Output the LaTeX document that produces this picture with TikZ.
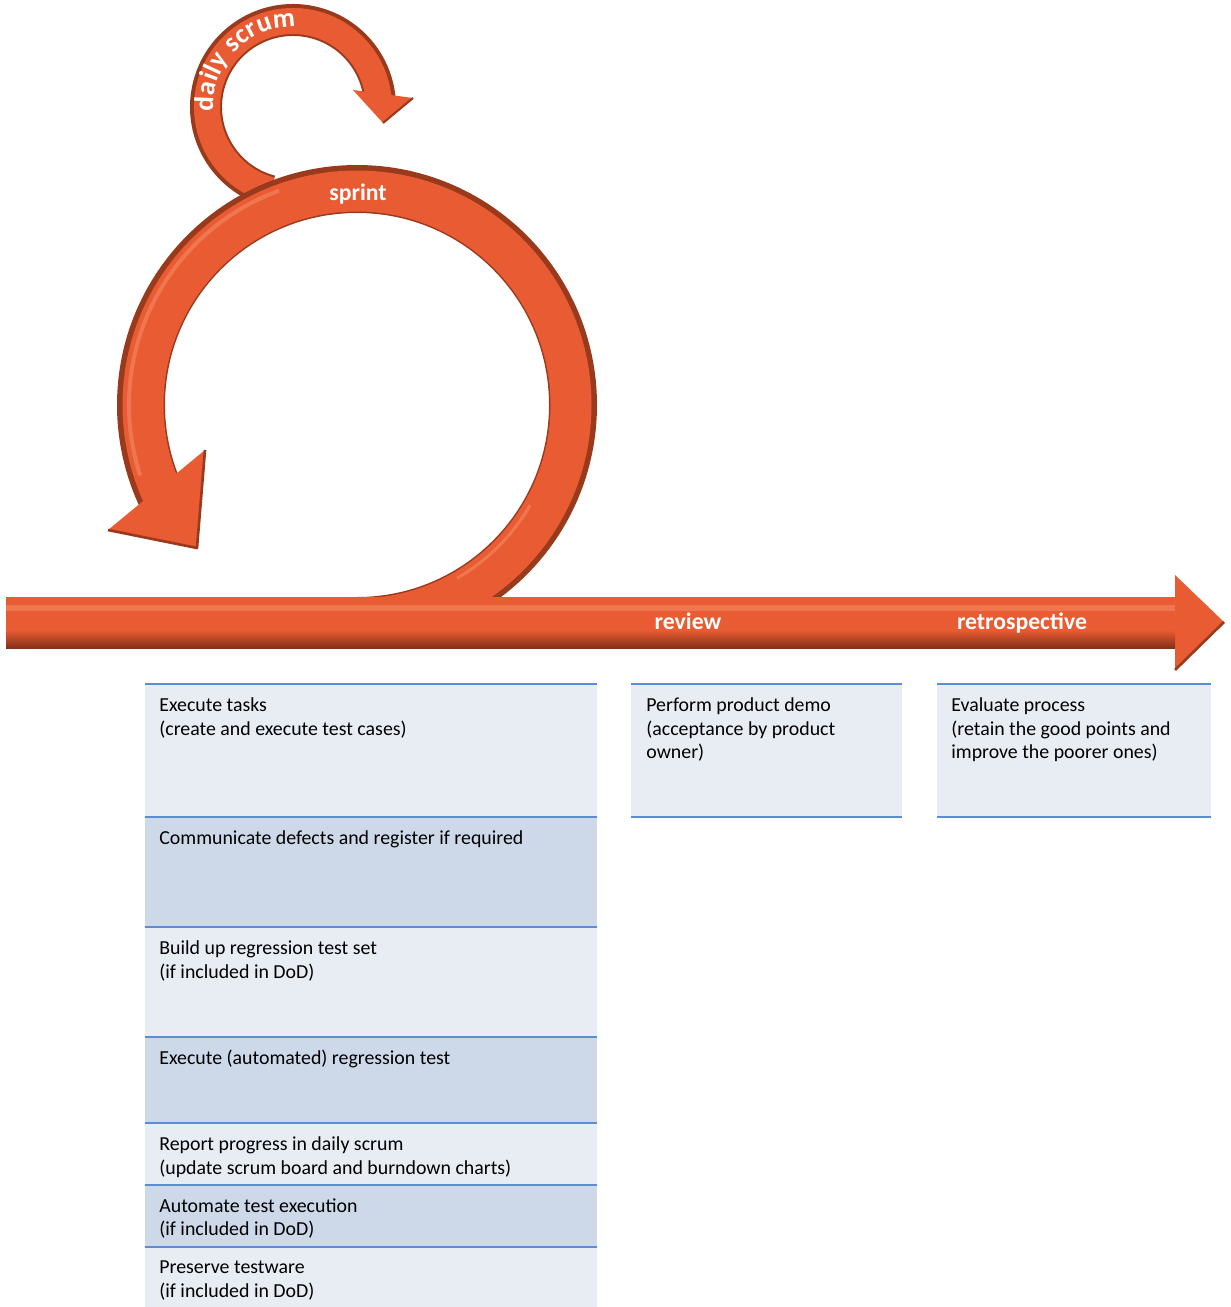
\documentclass[tikz,border=0pt]{standalone}
\usepackage{fontspec}
\setmainfont{Carlito}
\usepackage{tikz}
\usetikzlibrary{decorations.text}

\definecolor{ormain}{HTML}{E95B33}
\definecolor{ordark}{HTML}{9A3A1C}
\definecolor{orlight}{HTML}{F07650}
\definecolor{rowlight}{HTML}{E8ECF3}
\definecolor{rowdark}{HTML}{CDD8E9}
\definecolor{rowline}{HTML}{5A8ED1}

\begin{document}
\begin{tikzpicture}[x=0.02cm, y=-0.02cm,
    phase/.style={anchor=base, text=white, font=\fontsize{13.5}{16}\selectfont\bfseries},
    task/.style={anchor=north west, inner sep=0pt, align=left, font=\fontsize{11.3}{13.6}\selectfont},
    rowrule/.style={rowline, line width=1.4pt}]
    \useasboundingbox (0,0) rectangle (1230,1307);

    % daily scrum loop, drawn under the sprint ring
    \draw[ordark, line width=0.64cm] (293,107) ++(105:87) arc[start angle=105, end angle=355, radius=87];
    \draw[ormain, line width=0.52cm] (293,107) ++(105:86) arc[start angle=105, end angle=355, radius=86];
    \fill[ormain] (353,90) -- (413,98) -- (383,123) -- cycle;
    \draw[ordark, line width=1.2pt, line join=round] (413,98) -- (383,123);
    \path[decorate, decoration={text along path, text={|\fontsize{15.5}{18}\selectfont\bfseries|daily scrum},
        text color=white, text align={fit to path}}]
        (293,107) ++(177:80) arc[start angle=177, end angle=272, radius=80];

    % sprint ring
    \draw[ordark, line width=0.96cm] (357,405) ++(90:216) arc[start angle=90, end angle=-208, radius=216];
    \draw[ormain, line width=0.82cm] (357,405) ++(90:214) arc[start angle=90, end angle=-208, radius=214];
    \draw[orlight, line width=0.08cm] (357,405) ++(-110:228) arc[start angle=-110, end angle=-198, radius=228];
    \draw[orlight, line width=0.06cm] (357,405) ++(60:200) arc[start angle=60, end angle=30, radius=200];
    \fill[ormain] (108,530) -- (205,450) -- (197,548) -- cycle;
    \draw[ordark, line width=1.5pt, line join=round] (205,450) -- (197,548) -- (108,530);

    % time line
    \fill[ormain] (6,597) -- (1175,597) -- (1175,575) -- (1224,622) -- (1175,670) -- (1175,648) -- (6,648) -- cycle;
    \shade[top color=ormain, bottom color=ordark!85!black] (6,630) rectangle (1175,648);
    \fill[orlight] (6,605) rectangle (1175,611);
    \draw[ordark, line width=1.5pt] (1224,622) -- (1175,670);

    \node[phase] (sprint) at (358,201) {sprint};
    \node[phase] (review) at (688,629) {review};
    \node[phase] (retro) at (1022,629) {retrospective};

    % sprint tasks
    \foreach \ya/\yb/\rowcol/\txt [count=\i] in {
        684/817/rowlight/{Execute tasks\\(create and execute test cases)},
        817/927/rowdark/{Communicate defects and register if required},
        927/1037/rowlight/{Build up regression test set\\(if included in DoD)},
        1037/1123/rowdark/{Execute (automated) regression test},
        1123/1185/rowlight/{Report progress in daily scrum\\(update scrum board and burndown charts)},
        1185/1247/rowdark/{Automate test execution\\(if included in DoD)},
        1247/1307/rowlight/{Preserve testware\\(if included in DoD)}} {
        \fill[\rowcol] (145,\ya) rectangle (597,\yb);
        \node[task] (task\i) at (159,\ya+13) {\txt};
    }
    \foreach \y in {684,817,927,1037,1123,1185,1247}
        \draw[rowrule] (145,\y) -- (597,\y);

    % review and retrospective
    \fill[rowlight] (631,684) rectangle (902,817);
    \node[task] (demo) at (646,697) {Perform product demo\\(acceptance by product\\owner)};
    \fill[rowlight] (937,684) rectangle (1211,817);
    \node[task] (evaluate) at (951,697) {Evaluate process\\(retain the good points and\\improve the poorer ones)};
    \foreach \y in {684,817} {
        \draw[rowrule] (631,\y) -- (902,\y);
        \draw[rowrule] (937,\y) -- (1211,\y);
    }
\end{tikzpicture}
\end{document}
